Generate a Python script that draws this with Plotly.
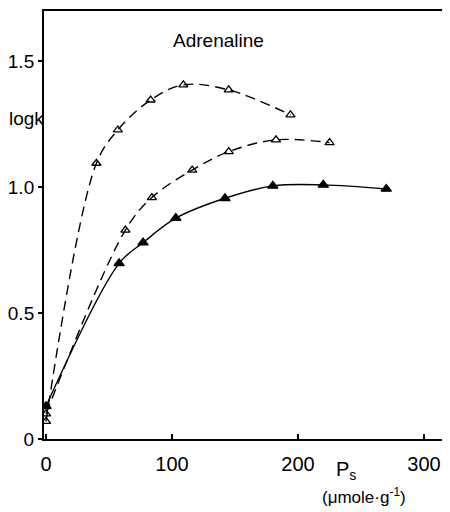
import plotly.graph_objects as go

# Data
ps_top = [0, 40, 57, 83, 109, 145, 194]
logk_top = [0.07, 1.094, 1.226, 1.345, 1.405, 1.385, 1.286]

ps_mid = [0, 63, 84, 116, 145, 182.5, 225]
logk_mid = [0.10, 0.829, 0.958, 1.067, 1.140, 1.187, 1.176]

ps_bot = [0, 58, 77, 103, 142, 180, 220, 270]
logk_bot = [0.13, 0.697, 0.779, 0.876, 0.955, 1.004, 1.008, 0.992]

x_ticks = [0, 100, 200, 300]
x_ticklabels = ["0", "100", "200", "300"]
y_ticks = [0, 0.5, 1.0, 1.5]
y_ticklabels = ["0", "0.5", "1.0", "1.5"]

FONT = "Liberation Sans, Arial, sans-serif"

fig = go.Figure()

def add_series(x, y, dash, symbol, msize):
    fig.add_trace(go.Scatter(
        x=x, y=y, mode="lines+markers",
        line=dict(color="black", width=1.4, dash=dash, shape="spline", smoothing=1.0),
        marker=dict(symbol=symbol, size=msize, color="black",
                    line=dict(color="black", width=1.3)),
        showlegend=False,
    ))

add_series(ps_top, logk_top, "10px,6px", "triangle-up-open", 8)
add_series(ps_mid, logk_mid, "10px,6px", "triangle-up-open", 8)
add_series(ps_bot, logk_bot, "solid", "triangle-up", 9)

# The page body adds an 8px offset; size the figure to fill the rest of the window.
OFF = 8
FW, FH = 450 - OFF, 512 - OFF
L, R, T, B = 44 - OFF, 2, 11 - OFF, 73
W = FW - L - R
H = FH - T - B

fig.update_layout(
    width=FW, height=FH,
    margin=dict(l=L, r=R, t=T, b=B, autoexpand=False),
    paper_bgcolor="white", plot_bgcolor="white",
    font=dict(family=FONT, color="black", size=19),
    xaxis=dict(
        range=[-1.6, 319], tickvals=x_ticks, ticktext=x_ticklabels,
        showgrid=False, zeroline=False, showline=True, linecolor="black",
        linewidth=2, mirror=True, ticks="inside", ticklen=5, tickwidth=1.5,
        tickcolor="black", tickfont=dict(size=20), ticklabelstandoff=6,
        automargin=False,
    ),
    yaxis=dict(
        range=[0, 1.698], tickvals=y_ticks, ticktext=y_ticklabels,
        showgrid=False, zeroline=False, showline=True, linecolor="black",
        linewidth=2, mirror=True, ticks="outside", ticklen=4, tickwidth=1.5,
        tickcolor="black", tickfont=dict(size=19), automargin=False,
    ),
)

def ann(text, px, py, size):
    # px, py are window pixel positions from the reference
    fx, fy = px - OFF, py - OFF
    fig.add_annotation(text=text, x=(fx - L) / W, y=1 - (fy - T) / H,
                       xref="paper", yref="paper", xanchor="center", yanchor="middle",
                       showarrow=False, font=dict(size=size, family=FONT, color="black"))

ann("Adrenaline", 218, 41, 19)
ann("logk", 26, 118, 19)
ann("P<sub>s</sub>", 346, 470, 20)
ann("(μmole·g<sup>-1</sup>)", 364, 496, 17)

fig.write_html("out.html")
